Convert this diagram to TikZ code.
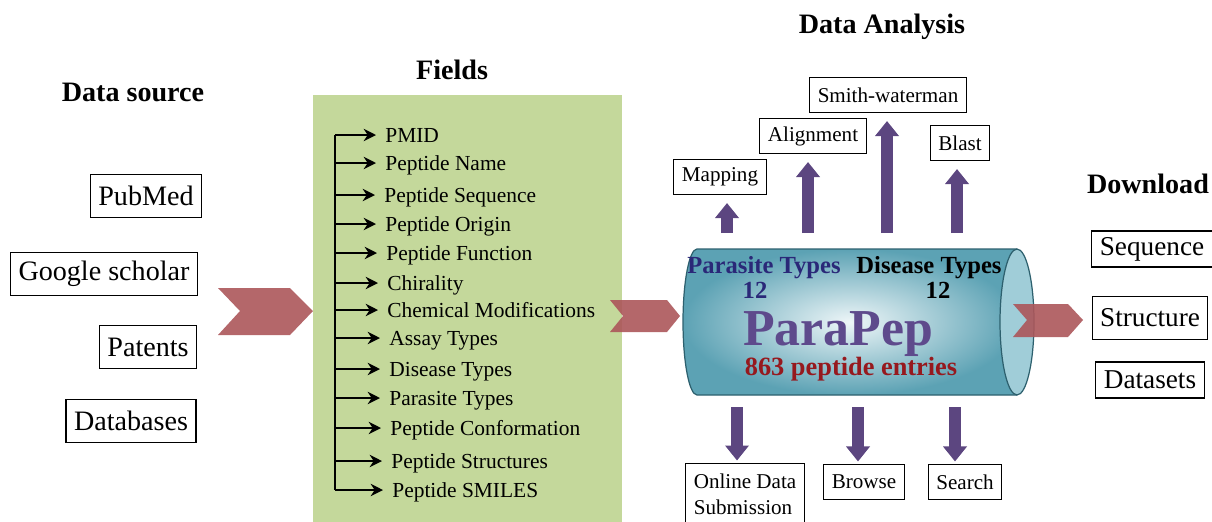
\documentclass[tikz,border=0pt]{standalone}
\usepackage{fontspec}
\setmainfont{Liberation Serif}
\usetikzlibrary{arrows.meta,positioning}

\definecolor{leafgreen}{RGB}{196,216,155}
\definecolor{chevred}{RGB}{172,86,90}
\definecolor{arrowpurple}{RGB}{92,70,128}
\definecolor{drumteal}{RGB}{92,162,180}
\definecolor{drumlight}{RGB}{238,246,248}
\definecolor{drumface}{RGB}{160,205,216}
\definecolor{drumedge}{RGB}{45,96,110}
\definecolor{typenavy}{RGB}{42,40,120}
\definecolor{brandpurple}{RGB}{94,74,140}
\definecolor{countred}{RGB}{150,25,30}

\tikzset{
  srcbox/.style={draw, line width=0.6pt, fill=white, inner xsep=0.16cm,
    minimum height=0.86cm, font=\fontsize{16}{19}\selectfont},
  toolbox/.style={draw, line width=0.6pt, fill=white, inner xsep=0.16cm,
    minimum height=0.7cm, font=\fontsize{12}{14.2}\selectfont},
  getbox/.style={srcbox, minimum height=0.72cm, font=\fontsize{15.5}{18}\selectfont},
  heading/.style={font=\bfseries\fontsize{16}{19}\selectfont},
  fieldtext/.style={anchor=west, inner xsep=0.18cm, inner ysep=0pt,
    text height=9pt, text depth=1pt, font=\fontsize{12.2}{14}\selectfont},
  fieldarrow/.style={line width=1.1pt, -{Stealth[length=7pt,width=7pt]}},
  blockup/.style={arrowpurple, line width=0.24cm, shorten >=0.16cm,
    -{Triangle[width=0.46cm,length=0.3cm]}},
  drumtext/.style={anchor=base, font=\bfseries\fontsize{14}{16}\selectfont},
  chev/.style={fill=chevred, fill opacity=0.9},
}

\begin{document}
\begin{tikzpicture}[x=0.02cm, y=0.02cm]
  \useasboundingbox (0,0) rectangle (1212,-521);
  \clip (0,0) rectangle (1212,-521);

  % headings
  \node[heading] (srchead) at (133,-92) {Data source};
  \node[heading] (fieldhead) at (452,-70) {Fields};
  \node[heading] (anahead) at (882,-27) {Data Analysis};
  \node[heading] (dlhead) at (1148,-184) {Download};

  % data sources
  \node[srcbox] (pubmed) at (146,-196) {PubMed};
  \node[srcbox] (scholar) at (104,-274) {Google scholar};
  \node[srcbox] (patents) at (148,-347) {Patents};
  \node[srcbox] (dbs) at (131,-421) {Databases};

  \fill[chev] (218,-288) -- (290,-288) -- (313,-311) -- (290,-335)
    -- (218,-335) -- (240,-311) -- cycle;

  % fields
  \fill[leafgreen] (313,-95) rectangle (622,-530);
  \foreach \i/\y/\x/\txt in {1/135/376/PMID, 2/163/376/Peptide Name,
      3/195/375/Peptide Sequence, 4/224/376/Peptide Origin,
      5/253/377/Peptide Function, 6/283/378/Chirality,
      7/310/378/Chemical Modifications, 8/338/380/Assay Types,
      9/369/380/Disease Types, 10/398/380/Parasite Types,
      11/428/381/Peptide Conformation, 12/461/382/Peptide Structures,
      13/490/383/Peptide SMILES} {
    \coordinate (t\i) at (335,-\y);
    \node[fieldtext] (f\i) at (\x,-\y) {\txt};
    \draw[fieldarrow] (t\i) -- (f\i);
  }
  \draw[line width=1.1pt] (t1) -- (t13);

  \fill[chev] (610,-300) -- (667,-300) -- (680,-316) -- (667,-332)
    -- (610,-332) -- (623,-316) -- cycle;

  % database drum
  \shade[inner color=drumlight, outer color=drumteal]
    (697,-249) -- (1017,-249) -- (1017,-395) -- (697,-395)
    arc[start angle=270, end angle=90, x radius=0.28cm, y radius=1.46cm] -- cycle;
  \draw[drumedge, line width=0.7pt]
    (1017,-249) -- (697,-249)
    arc[start angle=90, end angle=270, x radius=0.28cm, y radius=1.46cm]
    -- (1017,-395);
  \filldraw[draw=drumedge, line width=0.7pt, fill=drumface]
    (1017,-322) ellipse [x radius=0.34cm, y radius=1.46cm];

  \node[drumtext, text=typenavy] (partypes) at (764,-273) {Parasite Types};
  \node[drumtext, text=typenavy] (parcount) at (755,-298) {12};
  \node[drumtext] (distypes) at (929,-273) {Disease Types};
  \node[drumtext] (discount) at (938,-298) {12};
  \node[drumtext, text=brandpurple, font=\bfseries\fontsize{29.5}{32}\selectfont]
    (brand) at (838,-345) {ParaPep};
  \node[drumtext, text=countred, font=\bfseries\fontsize{15}{17}\selectfont]
    (entries) at (851,-375) {863 peptide entries};

  \fill[chev] (1013,-304) -- (1068,-304) -- (1083,-320) -- (1068,-337)
    -- (1013,-337) -- (1027,-320) -- cycle;

  % analysis tools
  \node[toolbox] (mapping) at (720,-177) {Mapping};
  \node[toolbox] (align) at (813,-136) {Alignment};
  \node[toolbox] (smith) at (888,-95) {Smith-waterman};
  \node[toolbox] (blast) at (960,-143) {Blast};

  \coordinate (u1) at (727,-233);
  \coordinate (u2) at (808,-233);
  \coordinate (u3) at (887,-233);
  \coordinate (u4) at (957,-233);
  \draw[blockup] (u1) -- (u1 |- mapping.south);
  \draw[blockup] (u2) -- (u2 |- align.south);
  \draw[blockup] (u3) -- (u3 |- smith.south);
  \draw[blockup] (u4) -- (u4 |- blast.south);

  \node[toolbox, anchor=north, align=left, inner ysep=6pt, text depth=30pt,
    font=\fontsize{12}{14.6}\selectfont]
    (submit) at (745,-463) {Online Data\\Submission};
  \node[toolbox] (browse) at (864,-482) {Browse};
  \node[toolbox] (search) at (965,-482) {Search};

  \coordinate (d1) at (737,-407);
  \coordinate (d2) at (858,-407);
  \coordinate (d3) at (955,-407);
  \draw[blockup, shorten >=0.05cm] (d1) -- (d1 |- submit.north);
  \draw[blockup, shorten >=0.05cm] (d2) -- (d2 |- browse.north);
  \draw[blockup, shorten >=0.05cm] (d3) -- (d3 |- search.north);

  % download
  \node[getbox] (seq) at (1152,-249) {Sequence};
  \node[getbox, minimum height=0.86cm] (struct) at (1150,-318) {Structure};
  \node[getbox] (datasets) at (1150,-380) {Datasets};
\end{tikzpicture}
\end{document}
